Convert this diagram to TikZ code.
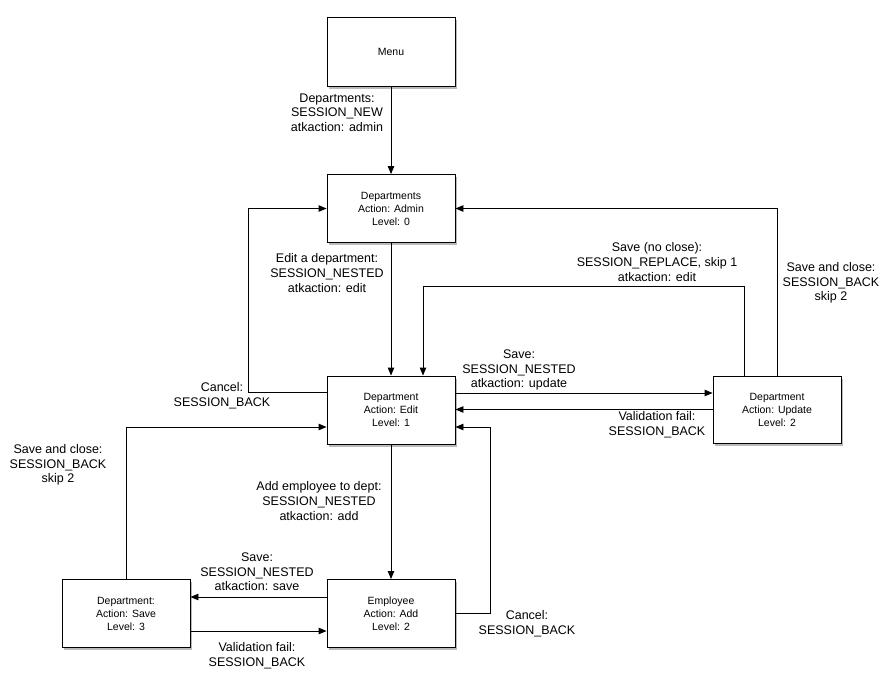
\documentclass[tikz,border=0pt]{standalone}
\usepackage{fontspec}
\setmainfont{Liberation Sans}
\usetikzlibrary{arrows.meta,shadows}
\begin{document}
\begin{tikzpicture}[x=1pt,y=-1pt,
  box/.style={draw, line width=0.9pt, fill=white, minimum width=128pt, minimum height=68pt,
    align=center, inner sep=2pt, font=\fontsize{10.5}{13}\selectfont,
    drop shadow={shadow xshift=2pt, shadow yshift=-2.5pt, opacity=0.45, fill=black!60}},
  lbl/.style={align=center, inner sep=0pt, font=\fontsize{12.5}{14.6}\selectfont},
  arr/.style={line width=0.9pt, -{Triangle[length=8pt,width=6.5pt]}},
  ln/.style={line width=0.9pt}]
\useasboundingbox (0,0) rectangle (890,680);
% boxes
\node[box, minimum height=69pt] (menu) at (391,51.5) {Menu};
\node[box] (depts) at (391,208.5) {Departments\\Action: Admin\\Level: 0};
\node[box] (edit) at (391,410) {Department\\Action: Edit\\Level: 1};
\node[box, minimum height=67pt] (update) at (777,409.5) {Department\\Action: Update\\Level: 2};
\node[box] (emp) at (391,613.5) {Employee\\Action: Add\\Level: 2};
\node[box] (save) at (126,613.5) {Department:\\Action: Save\\Level: 3};
% connectors
\draw[arr] (menu.south) -- (depts.north);
\draw[arr] (depts.south) -- (edit.north);
\draw[arr] ([yshift=18pt]edit.west) -- ++(-78,0) |- (depts.west);
\draw[arr] ([yshift=17pt]edit.east) -- ([yshift=17pt]edit.east -| update.west);
\draw[arr] (update.west) -- (update.west -| edit.east);
\draw[arr] ([xshift=-33pt]update.north) -- ++(0,-89) -| ([xshift=32pt]edit.north);
\draw[arr] (update.north) |- (depts.east);
\draw[arr] (edit.south) -- (emp.north);
\draw[arr] (emp.east) -- ++(35,0) |- ([yshift=-17pt]edit.east);
\draw[arr] ([yshift=16.5pt]emp.west) -- ([yshift=16.5pt]emp.west -| save.east);
\draw[arr] ([yshift=-17.5pt]save.east) -- ([yshift=-17.5pt]save.east -| emp.west);
\draw[arr] (save.north) |- ([yshift=-17pt]edit.west);
% labels
\node[lbl] (l1) at (337,112.5) {Departments:\\SESSION\_NEW\\atkaction: admin};
\node[lbl] (l2) at (327,273) {Edit a department:\\SESSION\_NESTED\\atkaction: edit};
\node[lbl] (l3) at (222,395.5) {Cancel:\\SESSION\_BACK};
\node[lbl] (l4) at (519,370) {Save:\\SESSION\_NESTED\\atkaction: update};
\node[lbl] (l5) at (657,425) {Validation fail:\\SESSION\_BACK};
\node[lbl] (l6) at (657,262) {Save (no close):\\SESSION\_REPLACE, skip 1\\atkaction: edit};
\node[lbl] (l7) at (831,283) {Save and close:\\SESSION\_BACK\\skip 2};
\node[lbl] (l8) at (319,501) {Add employee to dept:\\SESSION\_NESTED\\atkaction: add};
\node[lbl] (l9) at (527,624) {Cancel:\\SESSION\_BACK};
\node[lbl] (l10) at (257,572) {Save:\\SESSION\_NESTED\\atkaction: save};
\node[lbl] (l11) at (257,655.5) {Validation fail:\\SESSION\_BACK};
\node[lbl] (l12) at (58,465) {Save and close:\\SESSION\_BACK\\skip 2};
\end{tikzpicture}
\end{document}
